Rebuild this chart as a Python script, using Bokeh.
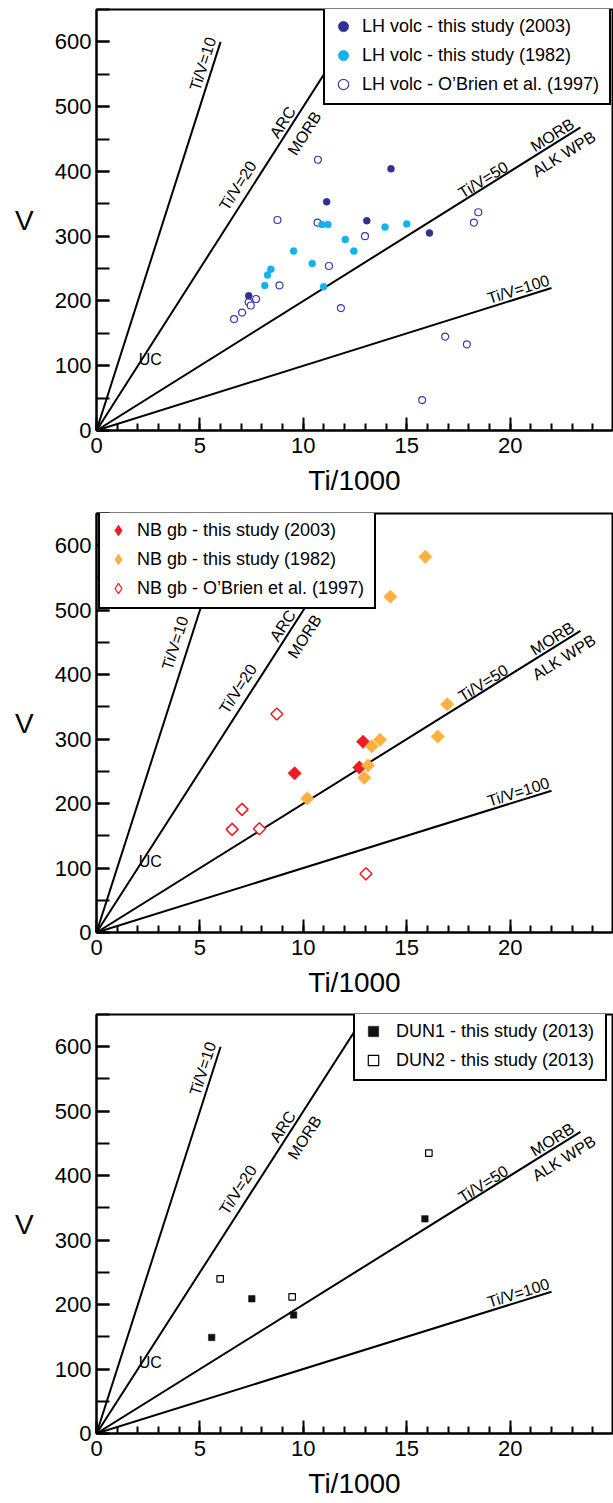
import math
from bokeh.plotting import figure
from bokeh.models import Legend, LegendItem, Label, SingleIntervalTicker, Range1d
from bokeh.layouts import column
from bokeh.embed import file_html
from bokeh.resources import INLINE

# ---------------- data ----------------
# Panel 1 : LH volcanics
lh2003_ti = [7.36, 11.13, 13.07, 14.24, 16.10]
lh2003_v = [208, 353, 324, 404, 305]
lh1982_ti = [8.14, 8.27, 8.43, 9.53, 10.43, 10.90, 11.19, 10.98, 12.03, 12.44, 13.95, 15.00]
lh1982_v = [224, 240, 249, 277, 258, 318, 318, 222, 295, 277, 314, 319]
lh1997_ti = [6.65, 7.04, 7.36, 7.46, 7.72, 8.75, 8.85, 10.69, 10.71, 11.24, 11.82, 12.98,
             15.75, 16.86, 17.91, 18.25, 18.46]
lh1997_v = [172, 182, 198, 193, 203, 325, 224, 321, 418, 254, 189, 300, 47, 145, 133, 321, 337]

# Panel 2 : NB gabbros
nb2003_ti = [9.58, 12.71, 12.89]
nb2003_v = [247, 256, 296]
nb1982_ti = [10.19, 12.95, 13.13, 13.31, 13.71, 14.21, 15.90, 16.50, 16.96]
nb1982_v = [208, 240, 259, 289, 299, 521, 583, 304, 354]
nb1997_ti = [6.56, 7.04, 7.88, 8.72, 13.03]
nb1997_v = [160, 191, 161, 339, 91]

# Panel 3 : DUN
dun1_ti = [5.57, 7.51, 9.53, 15.88]
dun1_v = [149, 209, 184, 333]
dun2_ti = [5.98, 9.46, 16.07]
dun2_v = [240, 212, 435]

# Reference Ti/V lines (ratio, end of line in Ti/1000)
ratio_values = [10, 20, 50, 100]
ratio_line_end_ti = [6.0, 13.0, 23.4, 22.0]

# field labels
field_texts = ["Ti/V=10", "Ti/V=20", "ARC", "MORB", "Ti/V=50", "MORB", "ALK WPB", "Ti/V=100", "UC"]
field_ti = [5.14, 6.84, 9.00, 10.06, 18.7, 22.04, 22.6, 20.4, 2.6]
field_v = [566, 378, 476, 459, 387, 456, 427, 218, 110]
field_ratio = [10, 20, 20, 20, 50, 50, 50, 100, None]

X_MAX = 24.95
Y_MAX = 650
FONT = "Liberation Sans"
FRAME_W = 516

DARK_BLUE = "#2e3192"
LIGHT_BLUE = "#12b2ec"
OPEN_BLUE = "#3a3aa6"
RED = "#ed1c24"
ORANGE = "#fbb040"


def make_panel(height, b_top, b_bottom, lab_standoff, frame_h, ti10_pos=None):
    p = figure(width=613, height=height, output_backend="svg", toolbar_location=None,
               x_range=Range1d(0, X_MAX), y_range=Range1d(0, Y_MAX),
               min_border_left=96, min_border_right=1, min_border_top=b_top,
               min_border_bottom=b_bottom)
    p.xgrid.visible = False
    p.ygrid.visible = False
    p.outline_line_color = "black"
    p.outline_line_width = 2
    p.background_fill_color = "white"
    p.border_fill_color = "white"

    p.xaxis.ticker = SingleIntervalTicker(interval=5, num_minor_ticks=5)
    p.yaxis.ticker = SingleIntervalTicker(interval=100, num_minor_ticks=2)
    for ax in (p.xaxis, p.yaxis):
        ax.axis_line_width = 2
        ax.axis_line_color = "black"
        ax.major_tick_line_width = 2
        ax.minor_tick_line_width = 2
        ax.major_tick_line_color = "black"
        ax.minor_tick_line_color = "black"
        ax.major_tick_in = 13
        ax.major_tick_out = 0
        ax.minor_tick_out = 0
        ax.major_label_text_font = FONT
        ax.major_label_text_font_size = "22px"
        ax.major_label_text_color = "black"
        ax.axis_label_text_font = FONT
        ax.axis_label_text_font_size = "28px"
        ax.axis_label_text_font_style = "normal"
        ax.axis_label_text_color = "black"
    p.xaxis.minor_tick_in = 7
    p.yaxis.minor_tick_in = 13
    p.xaxis.major_label_standoff = 7
    p.yaxis.major_label_standoff = 5
    p.xaxis.axis_label = "Ti/1000"
    p.yaxis.axis_label = "V"
    p.xaxis.axis_label_standoff = lab_standoff
    p.yaxis.axis_label_standoff = 18
    p.yaxis.axis_label_orientation = "horizontal"

    # reference lines
    for r, te in zip(ratio_values, ratio_line_end_ti):
        p.line([0, te], [0, te * 1000.0 / r], line_color="black", line_width=2)

    # labels
    px_x = FRAME_W / X_MAX
    px_y = frame_h / Y_MAX
    for i, (t, x, y, r) in enumerate(zip(field_texts, field_ti, field_v, field_ratio)):
        if i == 0 and ti10_pos is not None:
            x, y = ti10_pos
        ang = 0.0 if r is None else math.atan((1000.0 / r) * px_y / px_x)
        p.add_layout(Label(x=x, y=y, text=t, angle=ang, text_align="center",
                           text_baseline="middle", text_font=FONT,
                           text_font_size="16px", text_color="black"))
    return p


def style_legend(lg, x, y, label_width, standoff=6):
    lg.location = (x, y)
    lg.border_line_color = "black"
    lg.border_line_width = 2
    lg.border_line_alpha = 1
    lg.background_fill_color = "white"
    lg.background_fill_alpha = 1
    lg.padding = 5
    lg.spacing = 1
    lg.margin = 0
    lg.label_height = 28
    lg.glyph_height = 28
    lg.glyph_width = 26
    lg.label_standoff = standoff
    lg.label_width = label_width
    lg.label_text_font = FONT
    lg.label_text_font_size = "18px"
    lg.label_text_color = "black"


# ---------------- panel 1 ----------------
p1 = make_panel(508, 9, 78, 9, 421)
r1c = p1.scatter(lh1997_ti, lh1997_v, marker="circle", size=7, fill_color="white",
                 line_color=OPEN_BLUE, line_width=1.2)
r1b = p1.scatter(lh1982_ti, lh1982_v, marker="circle", size=7, fill_color=LIGHT_BLUE,
                 line_color=LIGHT_BLUE, line_width=0.5)
r1a = p1.scatter(lh2003_ti, lh2003_v, marker="circle", size=7, fill_color=DARK_BLUE,
                 line_color=DARK_BLUE, line_width=0.5)
lg1 = Legend(items=[LegendItem(label="LH volc - this study (2003)", renderers=[r1a]),
                    LegendItem(label="LH volc - this study (1982)", renderers=[r1b]),
                    LegendItem(label="LH volc - O\u2019Brien et al. (1997)", renderers=[r1c])])
style_legend(lg1, 227, 421 - 96, 242)
p1.add_layout(lg1)

# ---------------- panel 2 ----------------
p2 = make_panel(501, 5, 77, 9, 419, ti10_pos=(3.8, 449))
r2c = p2.scatter(nb1997_ti, nb1997_v, marker="square", angle=math.pi / 4, size=8.5,
                 fill_color="white", line_color=RED, line_width=1.5)
r2a = p2.scatter(nb2003_ti, nb2003_v, marker="square", angle=math.pi / 4, size=9.5,
                 fill_color=RED, line_color=RED, line_width=0.5)
r2b = p2.scatter(nb1982_ti, nb1982_v, marker="square", angle=math.pi / 4, size=9.5,
                 fill_color=ORANGE, line_color=ORANGE, line_width=0.5)
nan = [float("nan")]
l2a = p2.scatter(nan, nan, marker="diamond", size=11,
                 fill_color=RED, line_color=RED)
l2b = p2.scatter(nan, nan, marker="diamond", size=11,
                 fill_color=ORANGE, line_color=ORANGE)
l2c = p2.scatter(nan, nan, marker="diamond", size=10,
                 fill_color="white", line_color=RED, line_width=1.2)
lg2 = Legend(items=[LegendItem(label="NB gb - this study (2003)", renderers=[l2a]),
                    LegendItem(label="NB gb - this study (1982)", renderers=[l2b]),
                    LegendItem(label="NB gb - O\u2019Brien et al. (1997)", renderers=[l2c])])
style_legend(lg2, 2, 419 - 96, 232)
p2.add_layout(lg2)

# ---------------- panel 3 ----------------
p3 = make_panel(494, 5, 70, 9, 419)
r3b = p3.scatter(dun2_ti, dun2_v, marker="square", size=6.5, fill_color="white",
                 line_color="black", line_width=1.2)
r3a = p3.scatter(dun1_ti, dun1_v, marker="square", size=6.5, fill_color="#111111",
                 line_color="#111111", line_width=0.5)
lg3 = Legend(items=[LegendItem(label="DUN1 - this study (2013)", renderers=[r3a]),
                    LegendItem(label="DUN2 - this study (2013)", renderers=[r3b])])
style_legend(lg3, 257, 419 - 67, 204, standoff=10)
p3.add_layout(lg3)

layout = column(p1, p2, p3, spacing=0)
open("out.html", "w").write(file_html(layout, INLINE))
